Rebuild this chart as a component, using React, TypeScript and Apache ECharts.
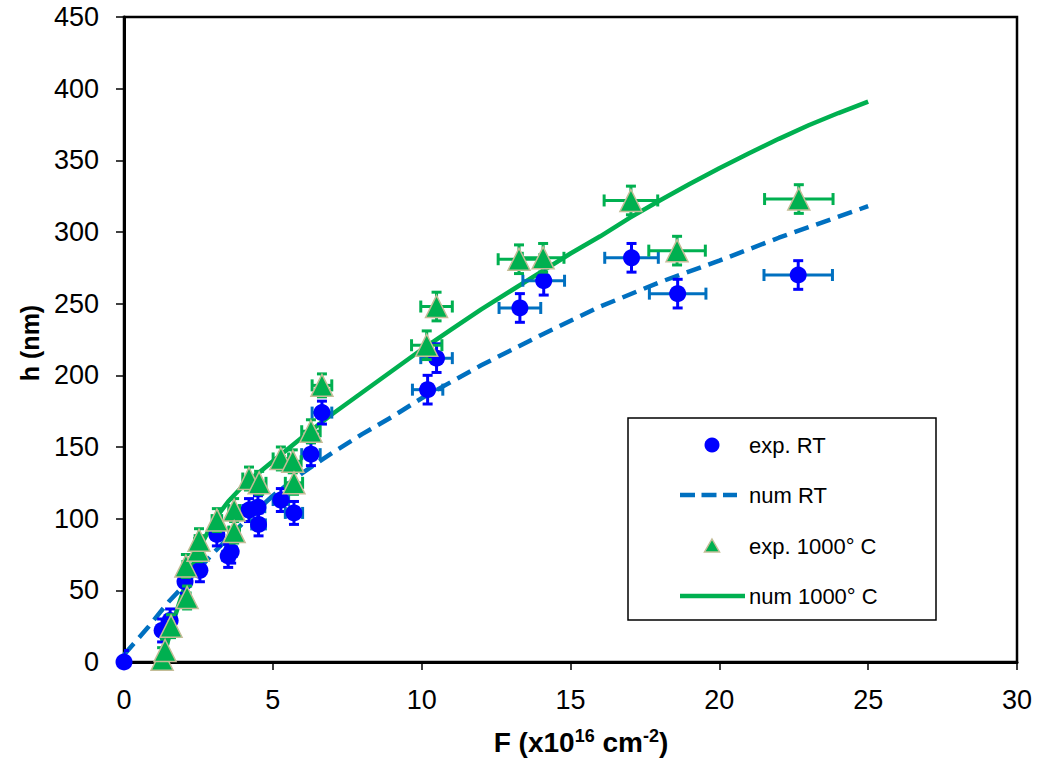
import React, { useEffect, useRef } from "react";
import * as echarts from "echarts";

// exp. RT
const rtX = [0, 1.28, 1.55, 2.05, 2.55, 3.12, 3.5, 3.6, 4.2, 4.5, 4.52, 5.27, 5.71, 6.28, 6.65, 10.2, 10.5, 13.3, 14.1, 17.05, 18.6, 22.65];
const rtY = [0, 22, 29, 56, 64, 89, 74, 77, 106, 108, 96, 113, 104, 145, 174, 190, 212, 247, 266, 282, 257, 270];
const rtXErr = [0, 0.06, 0.08, 0.1, 0.13, 0.16, 0.18, 0.18, 0.21, 0.23, 0.23, 0.26, 0.29, 0.31, 0.33, 0.51, 0.53, 0.7, 0.7, 0.9, 0.95, 1.15];
const rtYErr = [8, 8, 8, 8, 8, 8, 8, 8, 8, 8, 8, 8, 8, 8, 8, 10, 10, 10, 10, 10, 10, 10];

// exp. 1000° C
const gX = [1.28, 1.38, 1.58, 2.12, 2.08, 2.49, 2.52, 3.12, 3.7, 3.7, 4.2, 4.54, 5.27, 5.67, 5.71, 6.28, 6.65, 10.17, 10.5, 13.27, 14.08, 17.03, 18.58, 22.67];
const gY = [2, 8, 25, 45, 67, 78, 85, 99, 106, 91, 128, 125, 142, 140, 125, 161, 193, 221, 248, 281, 282, 322, 287, 323];
const gXErr = [0.06, 0.07, 0.08, 0.1, 0.1, 0.12, 0.13, 0.16, 0.18, 0.18, 0.21, 0.23, 0.26, 0.28, 0.29, 0.31, 0.33, 0.51, 0.53, 0.7, 0.7, 0.9, 0.95, 1.15];
const gYErr = [8, 8, 8, 8, 8, 8, 8, 8, 8, 8, 8, 8, 8, 8, 8, 8, 8, 10, 10, 10, 10, 10, 10, 10];

// num RT
const numRtX = [0, 0.8, 1.5, 2, 3, 4, 5, 6, 7, 8, 9, 10, 12, 14, 16, 18, 20, 22, 25];
const numRtY = [5, 24, 42, 53, 76, 97, 116, 132, 146, 159, 171, 184, 207, 228, 248, 265, 280, 296, 318];

// num 1000° C
const num1kX = [1.3, 1.6, 2, 2.5, 3, 3.5, 4, 5, 6, 7, 8, 9, 10, 11, 12, 13, 14, 15, 16, 17, 18, 19, 20, 21, 22, 23, 24, 25];
const num1kY = [0, 25, 50, 78, 98, 112, 123, 140, 157, 173, 188, 203, 218, 232, 246, 259, 272, 285, 297, 310, 322, 333.5, 344.5, 355, 365, 374.5, 383, 391];

const xTicks = [0, 5, 10, 15, 20, 25, 30];
const yTicks = [0, 50, 100, 150, 200, 250, 300, 350, 400, 450];

const legendNames = ["exp. RT", "num RT", "exp. 1000° C", "num 1000° C"];

const FONT = 'Arial, "Liberation Sans", sans-serif';
const BLUE = "#0000FF";
const MIDBLUE = "#0070C0";
const GREEN = "#00B050";
const TAN = "#C4BD97";

function zip(a: number[], b: number[]) {
  return a.map((v, i) => [v, b[i]]);
}
function zip4(a: number[], b: number[], c: number[], d: number[]) {
  return a.map((v, i) => [v, b[i], c[i], d[i]]);
}

function errRenderer(vColor: string, hColor: string) {
  return (params: any, api: any) => {
    const x = api.value(0);
    const y = api.value(1);
    const ex = api.value(2);
    const ey = api.value(3);
    const c = api.coord([x, y]);
    const t = api.coord([x, y + ey]);
    const b = api.coord([x, Math.max(0, y - ey)]);
    const vs = { stroke: vColor, lineWidth: 3 };
    const hs = { stroke: hColor, lineWidth: 3 };
    const children: any[] = [
      { type: "line", shape: { x1: c[0], y1: t[1], x2: c[0], y2: b[1] }, style: vs },
      { type: "line", shape: { x1: c[0] - 5, y1: t[1], x2: c[0] + 5, y2: t[1] }, style: vs },
    ];
    if (y - ey >= 0) {
      children.push({ type: "line", shape: { x1: c[0] - 5, y1: b[1], x2: c[0] + 5, y2: b[1] }, style: vs });
    }
    if (ex > 0) {
      const l = api.coord([x - ex, y]);
      const r = api.coord([x + ex, y]);
      children.push({ type: "line", shape: { x1: l[0], y1: c[1], x2: r[0], y2: c[1] }, style: hs });
      children.push({ type: "line", shape: { x1: l[0], y1: c[1] - 6, x2: l[0], y2: c[1] + 6 }, style: hs });
      children.push({ type: "line", shape: { x1: r[0], y1: c[1] - 6, x2: r[0], y2: c[1] + 6 }, style: hs });
    }
    return { type: "group", children };
  };
}

function buildLegend() {
  const left = 628;
  const top = 418;
  const rows = [445, 495, 546, 596];
  const iconX = 712;
  const textX = 749;
  const items: any[] = [
    {
      type: "rect",
      shape: { x: left, y: top, width: 308, height: 202 },
      style: { fill: "#fff", stroke: "#000", lineWidth: 1.5 },
      z: 100,
    },
    { type: "circle", shape: { cx: iconX, cy: rows[0], r: 7.5 }, style: { fill: BLUE }, z: 101 },
    {
      type: "line",
      shape: { x1: 680, y1: rows[1], x2: 737, y2: rows[1] },
      style: { stroke: MIDBLUE, lineWidth: 4.5, lineDash: [15, 6.5] },
      z: 101,
    },
    {
      type: "polygon",
      shape: { points: [[iconX, rows[2] - 7], [iconX + 7.5, rows[2] + 6], [iconX - 7.5, rows[2] + 6]] },
      style: { fill: GREEN, stroke: TAN, lineWidth: 1.5 },
      z: 101,
    },
    {
      type: "line",
      shape: { x1: 680, y1: rows[3], x2: 745, y2: rows[3] },
      style: { stroke: GREEN, lineWidth: 4.5 },
      z: 101,
    },
  ];
  legendNames.forEach((n, i) => {
    items.push({
      type: "text",
      x: textX,
      y: rows[i],
      z: 101,
      style: { text: n, font: `22px ${FONT}`, fill: "#000", align: "left", verticalAlign: "middle" },
    });
  });
  return items;
}

export default function App() {
  const ref = useRef<HTMLDivElement>(null);
  useEffect(() => {
    document.body.style.margin = "0";
    const chart = echarts.init(ref.current!, null, { renderer: "svg" });
    chart.setOption({
      animation: false,
      backgroundColor: "#fff",
      grid: {
        left: 124,
        top: 17,
        width: 893,
        height: 645,
        show: true,
        borderColor: "#000",
        borderWidth: 2.5,
        backgroundColor: "transparent",
      },
      xAxis: {
        type: "value",
        min: xTicks[0],
        max: xTicks[xTicks.length - 1],
        interval: 5,
        axisLine: { show: true, onZero: false, lineStyle: { color: "#000", width: 3 } },
        axisTick: { show: true, length: 8, lineStyle: { color: "#000", width: 1.5 } },
        splitLine: { show: false },
        axisLabel: { color: "#000", fontSize: 27, fontFamily: FONT, margin: 24 },
      },
      yAxis: {
        type: "value",
        min: yTicks[0],
        max: yTicks[yTicks.length - 1],
        interval: 50,
        axisLine: { show: true, onZero: false, lineStyle: { color: "#000", width: 3 } },
        axisTick: { show: true, length: 8, lineStyle: { color: "#000", width: 1.5 } },
        splitLine: { show: false },
        axisLabel: { color: "#000", fontSize: 27, fontFamily: FONT, margin: 25 },
      },
      graphic: [
        {
          type: "text",
          x: 30,
          y: 343,
          rotation: Math.PI / 2,
          style: {
            text: "h (nm)",
            font: `bold 25px ${FONT}`,
            fill: "#000",
            align: "center",
            verticalAlign: "middle",
          },
        },
        {
          type: "text",
          x: 581,
          y: 742,
          style: {
            text: "{b|F (x10}{s|16}{b| cm}{s|-2}{b|)}",
            align: "center",
            verticalAlign: "middle",
            rich: {
              b: { fontSize: 28, fontWeight: "bold", fontFamily: FONT, fill: "#000", color: "#000", lineHeight: 30 },
              s: { fontSize: 18, fontWeight: "bold", fontFamily: FONT, fill: "#000", color: "#000", verticalAlign: "top", lineHeight: 30, padding: [0, 0, 10, 0] },
            },
          },
        },
        ...buildLegend(),
      ],
      series: [
        {
          name: "num RT",
          type: "line",
          data: zip(numRtX, numRtY),
          showSymbol: false,
          symbol: "none",
          smooth: false,
          z: 1,
          lineStyle: { color: MIDBLUE, width: 4.5, type: [15, 8] },
          itemStyle: { color: MIDBLUE },
        },
        {
          name: "num 1000° C",
          type: "line",
          data: zip(num1kX, num1kY),
          showSymbol: false,
          symbol: "none",
          smooth: false,
          z: 1,
          lineStyle: { color: GREEN, width: 4.5 },
          itemStyle: { color: GREEN },
        },
        {
          name: "errRT",
          type: "custom",
          renderItem: errRenderer(BLUE, MIDBLUE),
          data: zip4(rtX, rtY, rtXErr, rtYErr),
          z: 2,
          clip: true,
          silent: true,
        },
        {
          name: "exp. RT",
          type: "scatter",
          data: zip(rtX, rtY),
          symbol: "circle",
          symbolSize: 17,
          z: 3,
          clip: false,
          itemStyle: { color: BLUE, opacity: 1 },
        },
        {
          name: "err1000",
          type: "custom",
          renderItem: errRenderer(GREEN, GREEN),
          data: zip4(gX, gY, gXErr, gYErr),
          z: 4,
          clip: true,
          silent: true,
        },
        {
          name: "exp. 1000° C",
          type: "scatter",
          data: zip(gX, gY),
          symbol: "triangle",
          symbolSize: 22,
          z: 5,
          clip: false,
          itemStyle: { color: GREEN, borderColor: TAN, borderWidth: 1.5, opacity: 1 },
        },
      ],
    });
    return () => chart.dispose();
  }, []);
  return <div ref={ref} style={{ width: 1040, height: 763 }} />;
}
